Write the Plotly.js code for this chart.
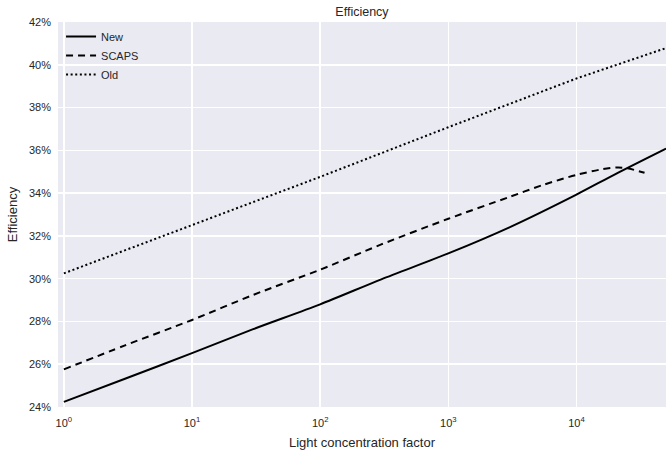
<!DOCTYPE html>
<html>
<head>
<meta charset="utf-8">
<script src="https://cdn.plot.ly/plotly-3.0.1.min.js"></script>
<style>
  html, body { margin: 0; padding: 0; background: #ffffff; }
  #chart { width: 669px; height: 455px; }
</style>
</head>
<body>
<div id="chart"></div>
<script>
// Light concentration factor (log scale) and efficiency in percent
const newX   = [1, 3, 10, 30, 100, 300, 1000, 3000, 10000, 20000, 50000];
const newY   = [24.24, 25.32, 26.52, 27.64, 28.8, 29.97, 31.18, 32.4, 33.93, 34.88, 36.08];

const scapsX = [1, 3, 10, 30, 100, 300, 1000, 3000, 5600, 10000, 16000, 21000, 25000, 34000];
const scapsY = [25.76, 26.88, 28.07, 29.24, 30.42, 31.6, 32.8, 33.82, 34.4, 34.85, 35.12, 35.2, 35.16, 34.95];

const oldX   = [1, 10, 100, 1000, 10000, 50000];
const oldY   = [30.25, 32.5, 34.76, 37.08, 39.36, 40.78];

const xTickVals = [1, 10, 100, 1000, 10000];
const xTickText = ['10<sup>0</sup>', '10<sup>1</sup>', '10<sup>2</sup>', '10<sup>3</sup>', '10<sup>4</sup>'];
const yTickVals = [24, 26, 28, 30, 32, 34, 36, 38, 40, 42];
const yTickText = ['24%', '26%', '28%', '30%', '32%', '34%', '36%', '38%', '40%', '42%'];

const FONT = 'Liberation Sans, Arial, sans-serif';
const TEXT = '#262626';

const traces = [
  { x: newX, y: newY, name: 'New', mode: 'lines', type: 'scatter',
    line: { color: '#000000', width: 2, shape: 'spline', smoothing: 0.8 } },
  { x: scapsX, y: scapsY, name: 'SCAPS', mode: 'lines', type: 'scatter',
    line: { color: '#000000', width: 2, dash: '7px,5px', shape: 'spline', smoothing: 0.8 } },
  { x: oldX, y: oldY, name: 'Old', mode: 'lines', type: 'scatter',
    line: { color: '#000000', width: 2, dash: '2px,2.6px' } }
];

const layout = {
  width: 669, height: 455,
  margin: { l: 58, r: 3, t: 22, b: 48, pad: 0 },
  paper_bgcolor: '#ffffff',
  plot_bgcolor: '#EAEAF2',
  font: { family: FONT, size: 11, color: TEXT },
  title: { text: 'Efficiency', font: { family: FONT, size: 12.5, color: TEXT },
           x: 0.5, xref: 'paper', y: 0.975, yref: 'container', yanchor: 'middle' },
  xaxis: {
    type: 'log',
    range: [Math.log10(0.9), Math.log10(50000)],
    tickmode: 'array', tickvals: xTickVals, ticktext: xTickText,
    showgrid: true, gridcolor: '#ffffff', gridwidth: 1.5,
    zeroline: false, showline: false, ticks: '',
    ticklabelstandoff: 8,
    tickfont: { family: FONT, size: 11, color: TEXT },
    title: { text: 'Light concentration factor', font: { family: FONT, size: 13, color: TEXT }, standoff: 9 }
  },
  yaxis: {
    range: [24, 42],
    tickmode: 'array', tickvals: yTickVals, ticktext: yTickText,
    showgrid: true, gridcolor: '#ffffff', gridwidth: 1.5,
    zeroline: false, showline: false, ticks: '',
    ticklabelstandoff: 6,
    tickfont: { family: FONT, size: 11, color: TEXT },
    title: { text: 'Efficiency', font: { family: FONT, size: 13, color: TEXT }, standoff: 8 }
  },
  legend: {
    x: 0.005, y: 1.0, xanchor: 'left', yanchor: 'top',
    bgcolor: 'rgba(0,0,0,0)', borderwidth: 0,
    font: { family: FONT, size: 11, color: TEXT },
    tracegroupgap: 0, itemwidth: 30
  },
  showlegend: true
};

Plotly.newPlot('chart', traces, layout, { displayModeBar: false, staticPlot: true });
</script>
</body>
</html>
